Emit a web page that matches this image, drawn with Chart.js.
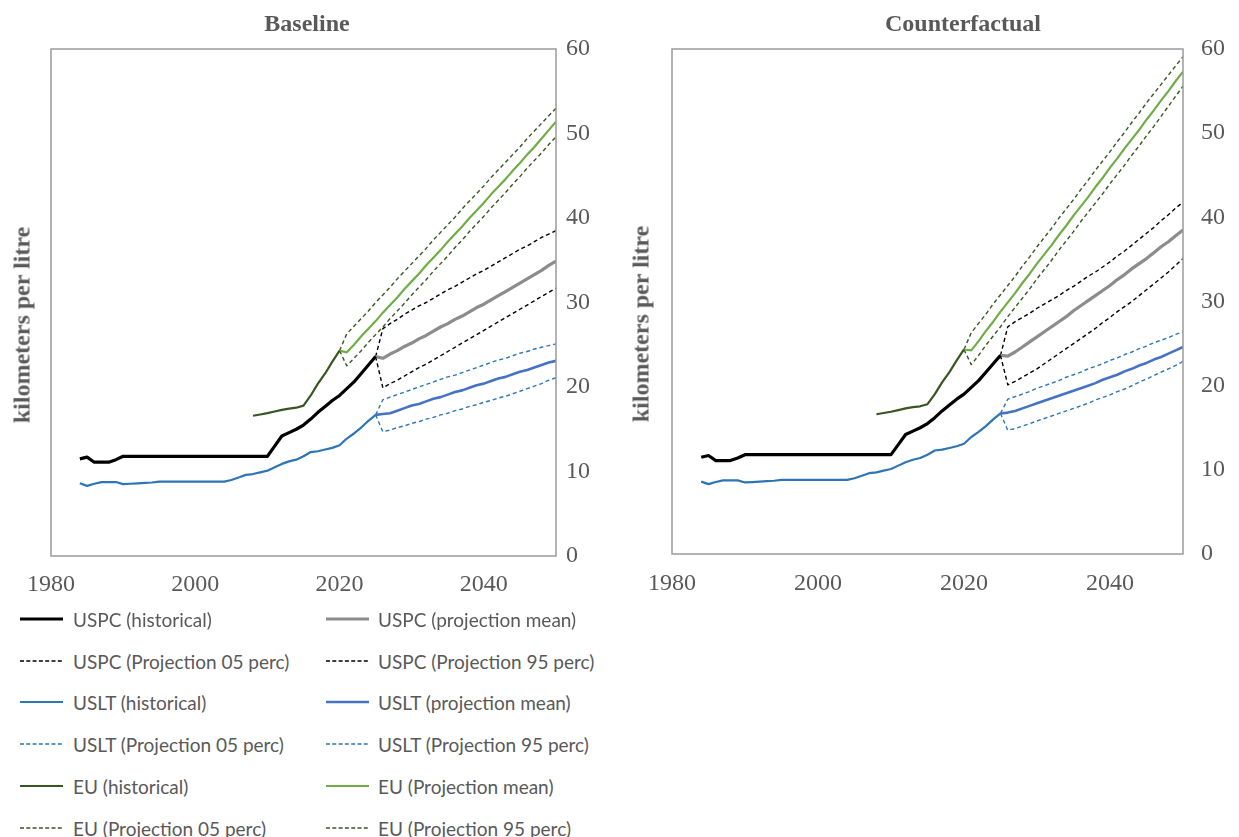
<!DOCTYPE html>
<html>
<head>
<meta charset="utf-8">
<title>Fuel economy: baseline and counterfactual</title>
<script src="https://cdn.jsdelivr.net/npm/chart.js@4.4.1/dist/chart.umd.min.js"></script>
<style>
  html, body { margin: 0; padding: 0; background: #fff; width: 1239px; height: 837px; overflow: hidden; }
  #page { position: relative; width: 1239px; height: 837px; overflow: hidden; }
  canvas { position: absolute; top: 0; }
  .ptitle, .ytitle {
    position: absolute; white-space: nowrap; color: #595959;
    font: bold 24px "Liberation Serif", "Times New Roman", serif;
  }
  .ptitle { transform: translate(-50%, -50%); }
  .ytitle { transform: translate(-50%, -50%) rotate(-90deg); }
  .legtext {
    position: absolute; white-space: nowrap; color: #595959;
    font: 19px Lato, "Open Sans", sans-serif; transform: translateY(-50%);
  }
  .legline { position: absolute; }
</style>
</head>
<body>
<div id="page">
  <canvas id="baseline" width="614" height="610" style="left:0px"></canvas>
  <canvas id="counterfactual" width="686" height="610" style="left:620px"></canvas>
  <div class="ptitle" style="left:307px; top:23px">Baseline</div>
  <div class="ptitle" style="left:963px; top:23px">Counterfactual</div>
  <div class="ytitle" style="left:22px; top:325px">kilometers per litre</div>
  <div class="ytitle" style="left:641px; top:324px">kilometers per litre</div>
  <div id="legend"></div>
</div>
<script>
// ---- Years ----
const histYears = [1984, 1985, 1986, 1987, 1988, 1989, 1990, 1991, 1992, 1993, 1994, 1995, 1996, 1997,
  1998, 1999, 2000, 2001, 2002, 2003, 2004, 2005, 2006, 2007, 2008, 2009, 2010, 2011, 2012, 2013,
  2014, 2015, 2016, 2017, 2018, 2019, 2020, 2021, 2022, 2023, 2024, 2025];
const euHistYears = [2008, 2009, 2010, 2011, 2012, 2013, 2014, 2015, 2016, 2017, 2018, 2019, 2020];
const usProjYears = [2025, 2026, 2027, 2028, 2029, 2030, 2031, 2032, 2033, 2034, 2035, 2036, 2037,
  2038, 2039, 2040, 2041, 2042, 2043, 2044, 2045, 2046, 2047, 2048, 2049, 2050];
const euProjYears = [2020, 2021, 2022, 2023, 2024, 2025, 2026, 2027, 2028, 2029, 2030, 2031, 2032,
  2033, 2034, 2035, 2036, 2037, 2038, 2039, 2040, 2041, 2042, 2043, 2044, 2045, 2046, 2047, 2048,
  2049, 2050];

// ---- Historical series (km per litre), shared by both panels ----
const uspcHist = [11.5, 11.7, 11.1, 11.1, 11.1, 11.4, 11.8, 11.8, 11.8, 11.8, 11.8, 11.8, 11.8, 11.8,
  11.8, 11.8, 11.8, 11.8, 11.8, 11.8, 11.8, 11.8, 11.8, 11.8, 11.8, 11.8, 11.8, 13.0, 14.2, 14.6,
  15.0, 15.5, 16.2, 17.0, 17.7, 18.4, 19.0, 19.8, 20.6, 21.6, 22.6, 23.6];
const usltHist = [8.6, 8.3, 8.55, 8.75, 8.75, 8.75, 8.5, 8.55, 8.6, 8.65, 8.7, 8.8, 8.8, 8.8,
  8.8, 8.8, 8.8, 8.8, 8.8, 8.8, 8.8, 9.0, 9.3, 9.6, 9.7, 9.9, 10.1, 10.5, 10.9, 11.2,
  11.4, 11.8, 12.3, 12.4, 12.6, 12.8, 13.1, 13.9, 14.5, 15.2, 16.0, 16.7];
const euHist = [16.6, 16.75, 16.9, 17.1, 17.3, 17.45, 17.55, 17.8, 19.0, 20.4, 21.6, 23.0, 24.3];

// ---- Baseline projections ----
const uspcMeanBase = [23.6, 23.4, 23.9, 24.3, 24.8, 25.2, 25.7, 26.1, 26.6, 27.1, 27.5, 28.0, 28.4,
  28.9, 29.4, 29.8, 30.3, 30.8, 31.3, 31.8, 32.3, 32.8, 33.3, 33.8, 34.4, 34.9];
const uspcP05Base = [23.6, 19.9, 20.4, 20.8, 21.3, 21.8, 22.3, 22.7, 23.2, 23.7, 24.2, 24.7, 25.2,
  25.7, 26.2, 26.7, 27.2, 27.7, 28.2, 28.7, 29.2, 29.7, 30.2, 30.7, 31.2, 31.7];
const uspcP95Base = [23.6, 26.9, 27.5, 28.0, 28.6, 29.1, 29.6, 30.0, 30.5, 31.0, 31.5, 31.9, 32.4,
  32.9, 33.4, 33.8, 34.3, 34.8, 35.3, 35.8, 36.3, 36.7, 37.2, 37.7, 38.1, 38.5];
const usltMeanBase = [16.7, 16.8, 16.9, 17.2, 17.5, 17.8, 18.0, 18.3, 18.6, 18.8, 19.1, 19.4, 19.6,
  19.9, 20.2, 20.4, 20.7, 21.0, 21.2, 21.5, 21.8, 22.0, 22.3, 22.6, 22.9, 23.1];
const usltP05Base = [16.7, 14.7, 14.9, 15.2, 15.4, 15.7, 15.9, 16.2, 16.4, 16.7, 16.9, 17.2, 17.4,
  17.7, 17.9, 18.2, 18.4, 18.7, 18.9, 19.2, 19.5, 19.8, 20.1, 20.4, 20.8, 21.1];
const usltP95Base = [16.7, 18.5, 18.8, 19.1, 19.4, 19.7, 20.0, 20.3, 20.6, 20.9, 21.2, 21.4, 21.7,
  22.0, 22.3, 22.6, 22.9, 23.2, 23.4, 23.7, 24.0, 24.2, 24.5, 24.7, 24.9, 25.1];
const euMeanBase = [24.3, 24.1, 25.0, 26.0, 26.9, 27.8, 28.8, 29.7, 30.6, 31.6, 32.5, 33.4, 34.4,
  35.3, 36.2, 37.2, 38.1, 39.0, 40.0, 40.9, 41.8, 42.8, 43.7, 44.6, 45.6, 46.5, 47.5, 48.4, 49.4,
  50.4, 51.4];
const euP05Base = [24.3, 22.5, 23.4, 24.3, 25.3, 26.2, 27.1, 28.1, 29.0, 29.9, 30.9, 31.8, 32.7,
  33.7, 34.6, 35.5, 36.5, 37.4, 38.4, 39.3, 40.2, 41.2, 42.1, 43.0, 44.0, 44.9, 45.9, 46.8, 47.7,
  48.7, 49.6];
const euP95Base = [24.3, 26.3, 27.2, 28.1, 29.0, 30.0, 30.9, 31.8, 32.8, 33.7, 34.6, 35.5, 36.4,
  37.4, 38.3, 39.2, 40.1, 41.1, 42.0, 42.9, 43.8, 44.8, 45.7, 46.6, 47.5, 48.4, 49.4, 50.3, 51.2,
  52.1, 53.0];

// ---- Counterfactual projections ----
const uspcMeanCf = [23.6, 23.5, 24.0, 24.6, 25.2, 25.8, 26.4, 27.0, 27.6, 28.2, 28.9, 29.5, 30.1,
  30.7, 31.3, 31.9, 32.6, 33.2, 33.9, 34.5, 35.1, 35.8, 36.5, 37.1, 37.8, 38.5];
const uspcP05Cf = [23.6, 20.1, 20.5, 21.0, 21.5, 22.0, 22.6, 23.2, 23.8, 24.4, 25.0, 25.6, 26.2,
  26.8, 27.5, 28.1, 28.8, 29.4, 30.0, 30.7, 31.4, 32.1, 32.8, 33.5, 34.3, 35.1];
const uspcP95Cf = [23.6, 27.0, 27.6, 28.1, 28.6, 29.2, 29.7, 30.2, 30.7, 31.3, 31.8, 32.4, 33.0,
  33.5, 34.1, 34.7, 35.4, 36.0, 36.7, 37.4, 38.1, 38.8, 39.6, 40.3, 41.1, 41.8];
const usltMeanCf = [16.7, 16.8, 17.0, 17.3, 17.6, 17.9, 18.2, 18.5, 18.8, 19.1, 19.4, 19.7, 20.0,
  20.3, 20.7, 21.0, 21.3, 21.7, 22.0, 22.4, 22.7, 23.1, 23.4, 23.8, 24.2, 24.6];
const usltP05Cf = [16.7, 14.7, 14.9, 15.2, 15.5, 15.8, 16.1, 16.4, 16.7, 17.0, 17.3, 17.6, 17.9,
  18.3, 18.6, 18.9, 19.3, 19.6, 20.0, 20.4, 20.8, 21.2, 21.6, 22.0, 22.4, 22.9];
const usltP95Cf = [16.7, 18.4, 18.7, 19.0, 19.3, 19.7, 20.0, 20.3, 20.6, 21.0, 21.3, 21.6, 22.0,
  22.3, 22.6, 23.0, 23.3, 23.7, 24.0, 24.4, 24.7, 25.1, 25.4, 25.7, 26.1, 26.4];
const euMeanCf = [24.3, 24.2, 25.3, 26.5, 27.6, 28.8, 29.9, 31.0, 32.2, 33.3, 34.5, 35.6, 36.7,
  37.9, 39.0, 40.2, 41.3, 42.4, 43.6, 44.7, 45.9, 47.0, 48.2, 49.3, 50.4, 51.6, 52.7, 53.9, 55.0,
  56.2, 57.3];
const euP05Cf = [24.3, 22.5, 23.6, 24.8, 25.9, 27.0, 28.2, 29.3, 30.4, 31.5, 32.7, 33.8, 34.9,
  36.1, 37.2, 38.3, 39.5, 40.6, 41.7, 42.8, 44.0, 45.1, 46.2, 47.4, 48.5, 49.7, 50.8, 52.0, 53.2,
  54.4, 55.6];
const euP95Cf = [24.3, 26.3, 27.4, 28.5, 29.7, 30.8, 31.9, 33.0, 34.2, 35.3, 36.5, 37.6, 38.7,
  39.9, 41.0, 42.1, 43.3, 44.4, 45.6, 46.7, 47.8, 49.0, 50.1, 51.3, 52.4, 53.6, 54.7, 55.8, 56.9,
  58.0, 59.1];

// ---- Axis ticks ----
const xTicks = [1980, 2000, 2020, 2040];
const yTicks = [0, 10, 20, 30, 40, 50, 60];

// ---- Series labels (legend order) ----
const seriesLabels = [
  'USPC (historical)', 'USPC (projection mean)',
  'USPC (Projection 05 perc)', 'USPC (Projection 95 perc)',
  'USLT (historical)', 'USLT (projection mean)',
  'USLT (Projection 05 perc)', 'USLT (Projection 95 perc)',
  'EU (historical)', 'EU (Projection mean)',
  'EU (Projection 05 perc)', 'EU (Projection 95 perc)'
];

// Line styles, in the same order as the labels
const DASH = [4, 3];
const seriesStyles = [
  { color: '#000000', width: 3.2, dash: [] },
  { color: '#8c8c8c', width: 3.2, dash: [] },
  { color: '#000000', width: 1.4, dash: DASH },
  { color: '#000000', width: 1.4, dash: DASH },
  { color: '#2e75b6', width: 2.2, dash: [] },
  { color: '#4472c4', width: 2.6, dash: [] },
  { color: '#2e75b6', width: 1.4, dash: DASH },
  { color: '#2e75b6', width: 1.4, dash: DASH },
  { color: '#375623', width: 2.2, dash: [] },
  { color: '#70ad47', width: 2.2, dash: [] },
  { color: '#375623', width: 1.4, dash: DASH },
  { color: '#375623', width: 1.4, dash: DASH }
];

function points(years, values) {
  return years.map((yr, i) => ({ x: yr, y: values[i] }));
}

function panelSeries(p) {
  return [
    points(histYears, uspcHist),
    points(usProjYears, p.uspcMean),
    points(usProjYears, p.uspcP05),
    points(usProjYears, p.uspcP95),
    points(histYears, usltHist),
    points(usProjYears, p.usltMean),
    points(usProjYears, p.usltP05),
    points(usProjYears, p.usltP95),
    points(euHistYears, euHist),
    points(euProjYears, p.euMean),
    points(euProjYears, p.euP05),
    points(euProjYears, p.euP95)
  ];
}

// Grey box around the plotting area
const plotFrame = {
  id: 'plotFrame',
  afterDatasetsDraw(chart) {
    const { ctx, chartArea: a } = chart;
    ctx.save();
    ctx.strokeStyle = '#9b9b9b';
    ctx.lineWidth = 1.5;
    ctx.strokeRect(a.left, a.top, a.right - a.left, a.bottom - a.top);
    ctx.restore();
  }
};

const tickFont = { family: '"Liberation Serif", "Times New Roman", serif', size: 24 };

function makeChart(id, p, geo) {
  const data = panelSeries(p);
  const datasets = data.map((d, i) => ({
    label: seriesLabels[i],
    data: d,
    borderColor: seriesStyles[i].color,
    borderWidth: seriesStyles[i].width,
    borderDash: seriesStyles[i].dash,
    pointRadius: 0,
    tension: 0,
    fill: false,
    borderCapStyle: 'butt',
    borderJoinStyle: 'round',
    order: seriesStyles[i].dash.length ? 2 : 1
  }));
  return new Chart(document.getElementById(id), {
    type: 'line',
    data: { datasets },
    plugins: [plotFrame],
    options: {
      responsive: false,
      animation: false,
      devicePixelRatio: 1,
      layout: { padding: { left: geo.left, top: geo.top, right: 0, bottom: 0 } },
      plugins: { legend: { display: false }, tooltip: { enabled: false }, title: { display: false } },
      scales: {
        x: {
          type: 'linear', min: 1980, max: 2050,
          afterBuildTicks: axis => { axis.ticks = xTicks.map(v => ({ value: v })); },
          ticks: { font: tickFont, color: '#595959', padding: geo.xPad, maxRotation: 0,
                   callback: v => String(v) },
          grid: { display: false, drawTicks: false },
          border: { display: false },
          afterFit: axis => { axis.height = geo.xH; }
        },
        y: {
          type: 'linear', position: 'right', min: 0, max: 60,
          afterBuildTicks: axis => { axis.ticks = yTicks.map(v => ({ value: v })); },
          ticks: { font: tickFont, color: '#595959', padding: geo.yPad,
                   callback: v => String(v) },
          grid: { display: false, drawTicks: false },
          border: { display: false },
          afterFit: axis => { axis.width = geo.yW; }
        }
      }
    }
  });
}

makeChart('baseline', {
  uspcMean: uspcMeanBase, uspcP05: uspcP05Base, uspcP95: uspcP95Base,
  usltMean: usltMeanBase, usltP05: usltP05Base, usltP95: usltP95Base,
  euMean: euMeanBase, euP05: euP05Base, euP95: euP95Base
}, { left: 51, top: 49, xH: 54, yW: 58, xPad: 14, yPad: 10 });

makeChart('counterfactual', {
  uspcMean: uspcMeanCf, uspcP05: uspcP05Cf, uspcP95: uspcP95Cf,
  usltMean: usltMeanCf, usltP05: usltP05Cf, usltP95: usltP95Cf,
  euMean: euMeanCf, euP05: euP05Cf, euP95: euP95Cf
}, { left: 52, top: 49, xH: 56, yW: 123, xPad: 15, yPad: 18 });

// ---- Legend: two columns, six rows ----
const legendRows = [619, 661, 702, 744, 786, 828];
const legendCols = [{ line: 20, text: 73 }, { line: 326, text: 378 }];
const legend = document.getElementById('legend');
seriesLabels.forEach((label, i) => {
  const row = Math.floor(i / 2), col = legendCols[i % 2], st = seriesStyles[i];
  const y = legendRows[row];
  const svgNS = 'http://www.w3.org/2000/svg';
  const svg = document.createElementNS(svgNS, 'svg');
  svg.setAttribute('class', 'legline');
  svg.setAttribute('width', '43');
  svg.setAttribute('height', '10');
  svg.style.left = col.line + 'px';
  svg.style.top = (y - 5) + 'px';
  const ln = document.createElementNS(svgNS, 'line');
  ln.setAttribute('x1', '0'); ln.setAttribute('x2', '43');
  ln.setAttribute('y1', '5'); ln.setAttribute('y2', '5');
  ln.setAttribute('stroke', st.color);
  ln.setAttribute('stroke-width', st.dash.length ? 1.4 : Math.min(st.width, 3));
  if (st.dash.length) ln.setAttribute('stroke-dasharray', '4 2.3');
  svg.appendChild(ln);
  legend.appendChild(svg);
  const t = document.createElement('div');
  t.className = 'legtext';
  t.style.left = col.text + 'px';
  t.style.top = y + 'px';
  t.textContent = label;
  legend.appendChild(t);
});
</script>
</body>
</html>
